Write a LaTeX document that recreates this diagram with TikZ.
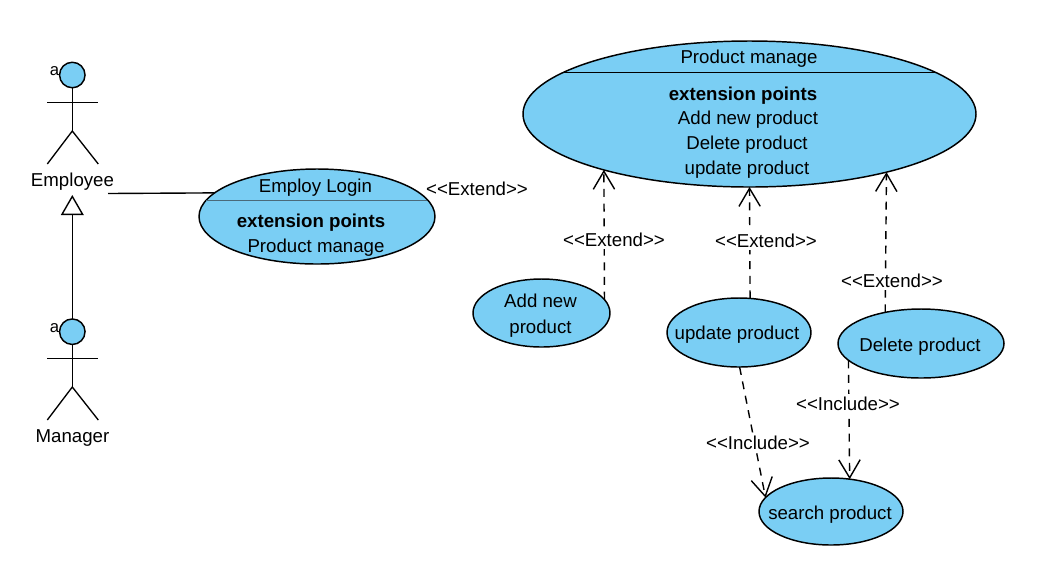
\documentclass[tikz,border=0pt]{standalone}
\usepackage{fontspec}
\setmainfont{Liberation Sans}
\usetikzlibrary{arrows.meta,shapes.geometric}
\definecolor{ucfill}{HTML}{7ACEF4}
\definecolor{sepgray}{HTML}{4A6A7A}
\tikzset{
  usecase/.style={ellipse,draw=black,line width=1.1pt,fill=ucfill,inner sep=0pt,outer sep=0pt},
  txt/.style={inner sep=0pt,anchor=base,font=\fontsize{14}{16}\selectfont},
  bold/.style={txt,font=\fontsize{14}{16}\selectfont\bfseries},
  relabel/.style={txt,fill=white,inner ysep=2pt,inner xsep=1pt},
  depend/.style={line width=1.05pt,dash pattern=on 6pt off 5pt,-{Straight Barb[length=13.5pt,width=16pt,line width=1.05pt]}},
  limb/.style={line width=1pt,line cap=butt},
  head/.style={circle,draw=black,line width=1.1pt,fill=ucfill,inner sep=0pt,outer sep=0pt,minimum size=25.5*0.75pt},
  assoc/.style={line width=1.05pt},
  general/.style={line width=1.05pt,-{Triangle[fill=white,length=15pt,width=17pt,line width=1.05pt]}},
  sep/.style={line width=0.6pt},
  tinya/.style={inner sep=0pt,anchor=base,font=\fontsize{12.5}{13}\selectfont,text=black}
}
\begin{document}
\begin{tikzpicture}[x=0.75pt,y=-0.75pt]
\useasboundingbox (0,0) rectangle (1038,562);

% use cases
\node[usecase,minimum width=453*0.75pt,minimum height=146*0.75pt] (pm) at (749.5,114) {};
\node[usecase,minimum width=236*0.75pt,minimum height=95*0.75pt] (login) at (317,216.5) {};
\node[usecase,minimum width=137*0.75pt,minimum height=68*0.75pt] (add) at (541.5,313) {};
\node[usecase,minimum width=144*0.75pt,minimum height=69*0.75pt] (upd) at (739,332.5) {};
\node[usecase,minimum width=166*0.75pt,minimum height=69*0.75pt] (del) at (921,343.5) {};
\node[usecase,minimum width=144*0.75pt,minimum height=67*0.75pt] (search) at (831,511.5) {};

\node[txt] (add1) at (540.5,307) {Add new};
\node[txt] (add2) at (540.5,333) {product};
\node[txt] (updt) at (737,339) {update product};
\node[txt] (delt) at (920,351) {Delete product};
\node[txt] (seat) at (830,519) {search product};

% compartments
\draw[sep,black] (564,72.5) coordinate (pml) -- (935,72.5) coordinate (pmr);
\draw[sep,sepgray] (206,200.5) coordinate (ll) -- (427,200.5) coordinate (lr);
\node[txt] (pmt) at (749,63) {Product manage};
\node[bold] (pme) at (743,100) {extension points};
\node[txt] (pm1) at (748,124) {Add new product};
\node[txt] (pm2) at (747,149) {Delete product};
\node[txt] (pm3) at (747,174) {update product};
\node[txt] (lt) at (315.5,192) {Employ Login};
\node[bold] (le) at (311,227) {extension points};
\node[txt] (l1) at (316,252) {Product manage};

% actors
\node[tinya] (a1) at (54.5,75) {a};
\node[head] (h1) at (72.3,75) {};
\coordinate (e1) at (72.3,131);
\coordinate (e1a) at (47.3,102.5);
\coordinate (e1b) at (98.3,102.5);
\coordinate (e1c) at (47.3,164);
\coordinate (e1d) at (98.3,164);
\draw[limb] (h1.south) -- (e1);
\draw[limb] (e1a) -- (e1b);
\draw[limb] (e1c) -- (e1) -- (e1d);
\node[txt] (emp) at (72.5,186) {Employee};

\node[tinya] (a2) at (54.5,332) {a};
\node[head] (h2) at (72.3,331.7) {};
\coordinate (e2) at (72.3,387);
\coordinate (e2a) at (47.3,358.5);
\coordinate (e2b) at (98.3,358.5);
\coordinate (e2c) at (47.3,420);
\coordinate (e2d) at (98.3,420);
\draw[limb] (h2.south) -- (e2);
\draw[limb] (e2a) -- (e2b);
\draw[limb] (e2c) -- (e2) -- (e2d);
\node[txt] (mgr) at (72.5,442) {Manager};

% actor relations
\coordinate (gtip) at (72.3,195);
\draw[general] (h2.north) -- (gtip);
\coordinate (astart) at (108,193.5);
\draw[assoc] (astart) -- (login.167.44);

% dependencies
\draw[depend] (add.12.6) -- (pm.201);
\draw[depend] (upd.72.1) -- (pm.-90);
\draw[depend] (del.139.2) -- (pm.-23.35);
\draw[depend] (upd.271) -- (search.168.5);
\draw[depend] (del.193.8) -- (search.60.5);

% labels
\node[txt] (x0) at (477,195.5) {<{}<Extend>{}>};
\node[relabel] (x1) at (614,246.5) {<{}<Extend>{}>};
\node[relabel] (x2) at (766,247.5) {<{}<Extend>{}>};
\node[relabel] (x3) at (892,287.5) {<{}<Extend>{}>};
\node[relabel] (i1) at (848,410.5) {<{}<Include>{}>};
\node[relabel] (i2) at (758,449.5) {<{}<Include>{}>};
\end{tikzpicture}
\end{document}
